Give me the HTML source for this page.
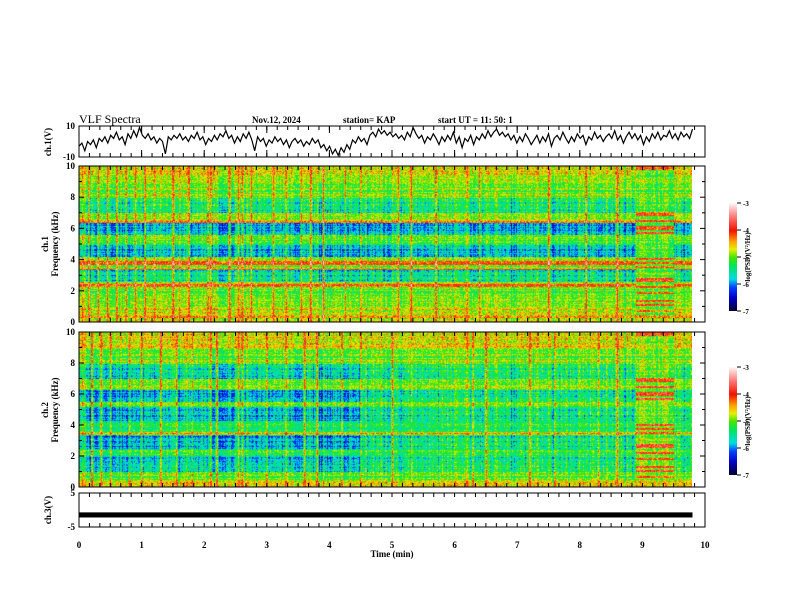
<!DOCTYPE html>
<html><head><meta charset="utf-8"><style>
body{margin:0;background:#fff;width:792px;height:612px;overflow:hidden;position:relative;font-family:"Liberation Serif",serif}
canvas{position:absolute}
svg{position:absolute;left:0;top:0}
</style></head><body>
<canvas id="spec1" width="613" height="156" style="left:79px;top:166px"></canvas>
<canvas id="spec2" width="613" height="155" style="left:79px;top:332px"></canvas>
<canvas id="cb1" width="8" height="108" style="left:729px;top:203px"></canvas>
<canvas id="cb2" width="8" height="108" style="left:729px;top:367px"></canvas>
<svg id="ov" width="792" height="612" font-family="Liberation Serif, serif" font-weight="bold">
<text x="79" y="123" font-size="12" font-weight="normal">VLF Spectra</text>
<text x="252" y="123" font-size="9">Nov.12, 2024</text>
<text x="343" y="123" font-size="9">station= KAP</text>
<text x="438" y="123" font-size="9">start  UT =   11: 50: 1</text>
<text transform="translate(51,142) rotate(-90)" font-size="9" text-anchor="middle">ch.1(V)</text>
<text transform="translate(48,244) rotate(-90)" font-size="9" text-anchor="middle">ch.1</text>
<text transform="translate(58,244) rotate(-90)" font-size="9" text-anchor="middle">Frequency  (kHz)</text>
<text transform="translate(48,410) rotate(-90)" font-size="9" text-anchor="middle">ch.2</text>
<text transform="translate(58,410) rotate(-90)" font-size="9" text-anchor="middle">Frequency  (kHz)</text>
<text transform="translate(51,510) rotate(-90)" font-size="9" text-anchor="middle">ch.3(V)</text>
<text x="392" y="557" font-size="9" text-anchor="middle">Time  (min)</text>
<text transform="translate(750,257) rotate(-90)" font-size="7" text-anchor="middle">log(PSD)(V²/Hz)</text>
<text transform="translate(750,421) rotate(-90)" font-size="7" text-anchor="middle">log(PSD)(V²/Hz)</text>
</svg>
<script>
// ---- data ----
const timeTicks=[0,1,2,3,4,5,6,7,8,9,10];
const freqTicks=[0,2,4,6,8,10];
const cbTicks=[-3,-4,-5,-6,-7];
const ch1Wave=[-3,-1,-6,0,-2,1,-4,2,0,3,-1,4,2,6,1,3,-2,5,2,7,3,9,4,2,5,1,3,-1,2,0,-8,3,1,4,2,5,1,3,0,4,2,6,1,3,-2,2,0,4,1,5,3,7,2,4,-1,3,0,5,2,6,1,-6,3,0,2,-3,1,-1,3,0,2,-2,1,-4,0,2,-1,1,-3,0,-2,2,-1,1,-4,-2,-6,-3,-8,-5,-9,-4,-7,-2,-5,1,-1,3,0,2,-2,4,6,3,8,5,7,4,6,3,5,2,4,1,6,3,9,5,2,4,-1,3,1,5,2,-2,3,0,4,1,6,-1,3,-4,2,0,4,-2,3,1,5,2,7,3,6,8,4,6,3,5,1,4,-1,3,0,5,2,-2,1,4,-1,3,0,5,-3,2,4,1,6,2,-1,3,0,5,2,4,-2,3,1,6,2,4,0,3,5,2,7,1,4,-1,3,6,2,5,1,4,-2,3,0,5,2,6,1,4,3,7,2,5,1,6,3,5,2,8];
const ch3Band=[-0.7,-2.2];
const bands1=[[10,9.3,-4.7],[9.3,8,-5.0],[8,7,-5.4],[7,6.5,-4.9],[6.5,6.4,-4.4],[6.4,5.6,-5.9],[5.6,5.0,-5.1],[5.0,4.2,-5.8],[4.2,3.95,-5.0],[3.95,3.7,-4.05],[3.7,3.45,-4.9],[3.45,3.35,-4.2],[3.35,2.6,-5.6],[2.6,2.45,-4.7],[2.45,2.3,-4.35],[2.3,1.0,-5.0],[1.0,0.5,-4.7],[0.5,0.3,-4.4],[0.3,0,-4.8]];
const bands2=[[10,9,-4.7],[9,8,-5.0],[8,7,-5.6],[7,6.3,-5.0],[6.3,5.5,-5.9],[5.5,5.2,-5.0],[5.2,4.3,-5.8],[4.3,3.6,-5.3],[3.6,3.4,-4.6],[3.4,2.5,-5.9],[2.5,2.0,-5.3],[2.0,1.0,-5.7],[1.0,0.5,-5.0],[0.5,0,-4.6]];
const spikes1=[0.05,0.15,0.3,0.45,0.6,0.75,0.9,1.05,1.2,1.5,1.6,1.75,2.05,2.1,2.15,2.4,2.55,2.6,2.75,3.1,3.3,3.55,3.7,3.9,4.25,4.5,5.1,5.3,5.7,6.2,6.4,7.5,8.1,8.6];
const spikes2=[0.05,0.2,0.35,0.5,0.8,1.0,1.3,1.55,1.8,2.1,2.2,2.55,2.6,3.0,3.3,3.6,3.8,4.2,4.5,5.0,6.2,6.3,6.5,7.2,7.6,8.3,8.6];
const tEnd=9.8;
// ---- geometry ----
const X0=79,X1=705;
const xs=t=>X0+(X1-X0)*t/10;
const NS='http://www.w3.org/2000/svg';
const ov=document.getElementById('ov');
function el(tag,at,name){const e=document.createElementNS(NS,tag);for(const k in at)e.setAttribute(k,at[k]);


ov.appendChild(e);return e;}
function frame(top,bot,name){
 el('rect',{x:X0,y:top,width:X1-X0,height:bot-top,fill:'none',stroke:'#000','stroke-width':1},name+'-frame');
 for(let i=0;i<=60;i++){const x=xs(i/6);
  el('line',{x1:x,x2:x,y1:top,y2:top+4,stroke:'#000'},name+'-top-tick');
  el('line',{x1:x,x2:x,y1:bot,y2:bot-4,stroke:'#000'},name+'-bottom-tick');}
}
function cmap(v){
 const s=[[-7,0,0,40],[-6.5,0,0,200],[-6.1,0,70,255],[-5.8,0,220,230],[-5.3,0,230,90],[-5.0,70,230,0],[-4.7,230,240,0],[-4.4,255,160,0],[-4.0,240,20,0],[-3.5,255,120,120],[-3,255,245,245]];
 if(v<=s[0][0])return s[0].slice(1);if(v>=-3)return s[s.length-1].slice(1);
 for(let i=1;i<s.length;i++)if(v<=s[i][0]){const a=s[i-1],b=s[i],f=(v-a[0])/(b[0]-a[0]);return [0,1,2].map(k=>a[k+1]+(b[k+1]-a[k+1])*f);}
}
function h(a,b){let n=(a*374761393+b*668265263)|0;n=(n^(n>>>13))*1274126177|0;return ((n^(n>>>16))>>>0)/4294967296;}
function drawSpec(id,bands,spikes,late){
 const c=document.getElementById(id),g=c.getContext('2d'),W=c.width,H=c.height,img=g.createImageData(W,H);
 for(let x=0;x<W;x++){const t=x/W*tEnd;
  let sp=0;for(const s of spikes){const d=Math.abs(t-s)*62.6;if(d<1.2)sp=Math.max(sp,0.9*(1-d/1.5));}
  const col=(h(x,7)-0.5)*0.7+(h(x>>2,9)-0.5)*0.4;
  const seg=t>8.9&&t<9.5;
  for(let y=0;y<H;y++){const f=10*(1-y/H);
   let lv=-5;for(const b of bands)if(f<=b[0]&&f>=b[1]){lv=b[2];break;}
   if(late&&t>4.5&&lv<-5.3)lv=lv+(-5.2-lv)*0.55;
   if(seg&&f>0.5){lv=late?-5.0:-5.1;}
   let v=lv+col*(lv<-5.3?1:0.6)+(h(y,3)-0.5)*0.5+(h(x,y)-0.5)*0.7+sp;
   if(seg&&f>0.5&&h(y>>1,11)>0.78)v+=1.0;
   const [r,gg,bb]=cmap(v);const i=(y*W+x)*4;img.data[i]=r;img.data[i+1]=gg;img.data[i+2]=bb;img.data[i+3]=255;}}
 g.putImageData(img,0,0);
}
drawSpec('spec1',bands1,spikes1,false);
drawSpec('spec2',bands2,spikes2,true);
['cb1','cb2'].forEach(id=>{const c=document.getElementById(id),g=c.getContext('2d');for(let y=0;y<c.height;y++){const v=-3-4*y/c.height;const [r,gg,b]=cmap(v);g.fillStyle=`rgb(${r|0},${gg|0},${b|0})`;g.fillRect(0,y,8,1);}});
[[203,311],[367,475]].forEach((r,k)=>{cbTicks.forEach(v=>{const y=r[0]+(r[1]-r[0])*(-3-v)/4;
 el('line',{x1:737,x2:741,y1:y,y2:y,stroke:'#000'},'colorbar-tick');
 const t=el('text',{x:743,y:y+3,'font-size':7},'colorbar-tick-label');t.textContent=v;});});
const panels=[[126,157,'ch1-wave'],[166,322,'ch1-spec'],[332,487,'ch2-spec'],[493,527,'ch3-wave']];
panels.forEach(p=>frame(p[0],p[1],p[2]));
for(let i=1;i<10;i++){const x=xs(i);el('line',{x1:x,x2:x,y1:126,y2:133,stroke:'#000'},'ch1-major-tick');el('line',{x1:x,x2:x,y1:150,y2:157,stroke:'#000'},'ch1-major-tick');}
[[166,322],[332,487]].forEach(r=>{for(let f=0;f<=10;f++){const y=r[1]-(r[1]-r[0])*f/10;
 el('line',{x1:X0,x2:X0+(f%2?3:5),y1:y,y2:y,stroke:'#000'},'freq-tick');
 el('line',{x1:X1,x2:X1-(f%2?3:5),y1:y,y2:y,stroke:'#000'},'freq-tick-right');}
 freqTicks.forEach(f=>{const y=r[1]-(r[1]-r[0])*f/10;const t=el('text',{x:X0-4,y:y+3,'font-size':9,'text-anchor':'end'},'freq-tick-label');t.textContent=f;});});
[[126,'10'],[157,'-10'],[493,'5'],[527,'-5']].forEach(a=>{const t=el('text',{x:X0-4,y:a[0]+3,'font-size':9,'text-anchor':'end'},'volt-tick-label');t.textContent=a[1];});
const wy=v=>141.5-v*15.5/10;
let d='';ch1Wave.forEach((v,i)=>{d+=(i?'L':'M')+xs(i/(ch1Wave.length-1)*tEnd).toFixed(1)+','+wy(v).toFixed(1);});
el('path',{d:d,fill:'none',stroke:'#000','stroke-width':1.2},'ch1-waveform');
const y3=v=>510-v*17/5;
el('rect',{x:X0,y:y3(ch3Band[0]),width:xs(tEnd)-X0,height:y3(ch3Band[1])-y3(ch3Band[0]),fill:'#000'},'ch3-waveform');
timeTicks.forEach(t=>{const e=el('text',{x:xs(t),y:548,'font-size':9,'text-anchor':'middle'},'time-tick-label');e.textContent=t;});
</script>
</body></html>
